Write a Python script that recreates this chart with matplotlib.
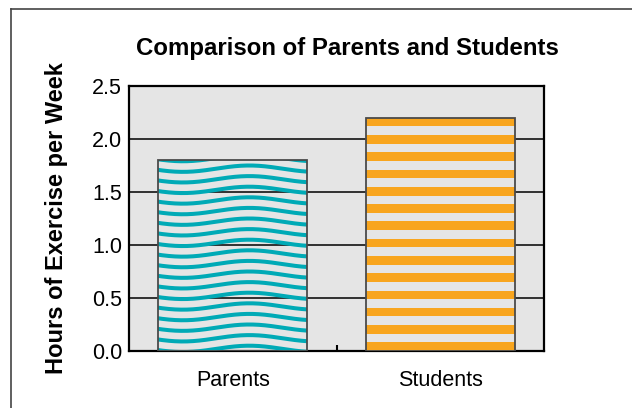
import numpy as np
import matplotlib
matplotlib.use("Agg")
from matplotlib import pyplot as plt
from matplotlib.lines import Line2D

# data
categories = ["Parents", "Students"]
hours = [1.8, 2.2]
y_ticks = [0.0, 0.5, 1.0, 1.5, 2.0, 2.5]

title = "Comparison of Parents and Students"
y_label = "Hours of Exercise per Week"

teal = "#00aab6"
orange = "#f8a51e"
panel_gray = "#e5e5e5"

plt.rcParams["font.family"] = ["Liberation Sans", "DejaVu Sans"]

W, H = 632, 408
fig = plt.figure(figsize=(W / 100, H / 100), dpi=100)
ax = fig.add_axes([129 / W, 1 - 351 / H, 415 / W, 265 / H])
ax.set_facecolor(panel_gray)

x = np.arange(len(categories))
bar_width = 0.72
bars = ax.bar(x, hours, width=bar_width, facecolor="none",
              edgecolor="#4a4a4a", linewidth=1.3, zorder=4)


def wave_fill(ax, rect, color):
    # wavy horizontal lines, clipped to the bar
    x0, w, h = rect.get_x(), rect.get_width(), rect.get_height()
    xs = np.linspace(x0 - 0.05, x0 + w + 0.05, 200)
    for y0 in np.arange(0.02, h + 0.1, 0.1):
        ys = y0 + 0.03 * np.sin(2 * np.pi * (xs - 0.08) / 0.64 + np.pi / 2)
        ln, = ax.plot(xs, ys, color=color, lw=2.9, zorder=3,
                      solid_capstyle="butt")
        ln.set_clip_path(rect)


def stripe_fill(ax, rect, color):
    # horizontal stripes, clipped to the bar
    h = rect.get_height()
    step = h / 13.5
    for y0 in np.arange(0, h, step):
        sp = ax.axhspan(y0, y0 + step / 2, facecolor=color, edgecolor="none",
                        zorder=3)
        sp.set_clip_path(rect)


wave_fill(ax, bars[0], teal)
stripe_fill(ax, bars[1], orange)

ax.set_xlim(-0.5, 1.5)
ax.set_ylim(0, 2.5)
ax.set_yticks(y_ticks)
ax.set_yticklabels([f"{v:.1f}" for v in y_ticks])
ax.yaxis.grid(True, color="black", linewidth=1.1)
ax.set_axisbelow(True)
ax.tick_params(axis="y", length=0, pad=5, labelsize=15.5)

ax.set_xticks(x)
ax.set_xticklabels(categories)
ax.tick_params(axis="x", length=0, pad=14, labelsize=15.5)
ax.set_xticks([0.5], minor=True)
ax.tick_params(axis="x", which="minor", direction="in", length=4,
               width=1.5, color="black")

for s in ax.spines.values():
    s.set_linewidth(1.6)
    s.set_color("black")

ax.set_ylabel(y_label, fontsize=17, fontweight="bold")
ax.yaxis.set_label_coords((68 - 129) / 415, 0.5)

fig.text(347 / W, 1 - 48 / H, title, ha="center", va="center",
         fontsize=17.3, fontweight="bold")

# outer frame (top and left edges)
fig.add_artist(Line2D([11 / W, 1], [1 - 8.5 / H, 1 - 8.5 / H],
                      transform=fig.transFigure, color="#444444", lw=1.2))
fig.add_artist(Line2D([11 / W, 11 / W], [0, 1 - 8.5 / H],
                      transform=fig.transFigure, color="#444444", lw=1.2))

fig.savefig("out.png", dpi=100)
